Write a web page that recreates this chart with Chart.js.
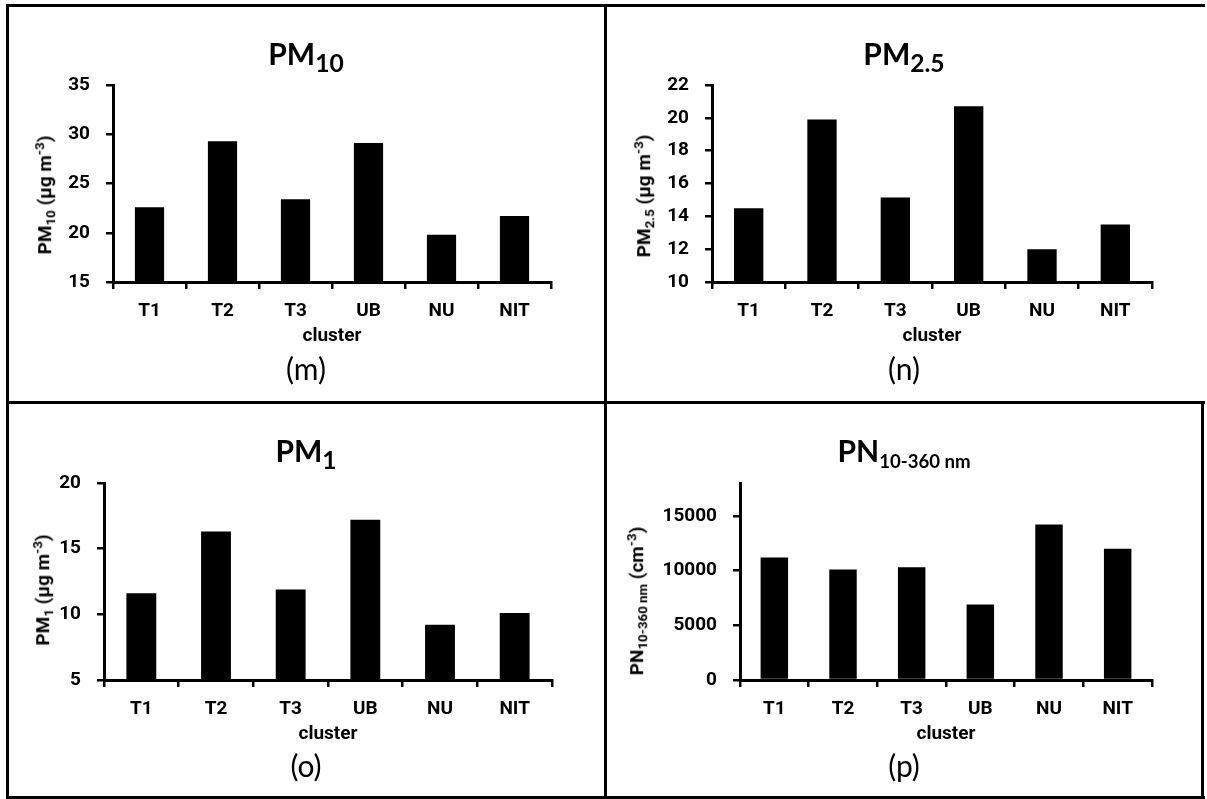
<!DOCTYPE html>
<html>
<head>
<meta charset="utf-8">
<script src="https://cdn.jsdelivr.net/npm/chart.js@4.4.0/dist/chart.umd.min.js"></script>
<style>
  html, body { margin: 0; padding: 0; background: #fff; }
  body { width: 1207px; height: 799px; position: relative; overflow: hidden; }
  .line { position: absolute; background: #000; }
  .cell { position: absolute; }
  .cell canvas { position: absolute; left: 0; top: 0; }
  .title, .tag {
    position: absolute; left: 0; width: 100%; text-align: center;
    font-family: Lato, 'Open Sans', sans-serif; font-size: 30px; line-height: 30px;
    white-space: nowrap; color: #000;
  }
  .title { font-weight: bold; }
  .tag { font-weight: normal; }
  .ylab {
    position: absolute; transform: translate(-50%, -50%) rotate(-90deg);
    font-family: Roboto, sans-serif; font-weight: bold; font-size: 19px; line-height: 19px;
    white-space: nowrap; color: #000;
  }
  .sub { font-size: 70%; vertical-align: -0.25em; }
  .sup { font-size: 70%; vertical-align: 0.55em; }
  .title .sub { font-size: 82%; vertical-align: -0.28em; }
  .title .sub.small { font-size: 62%; vertical-align: -0.3em; }
</style>
</head>
<body>
<div class="line" style="left:6px;top:4px;width:1199px;height:3px"></div>
<div class="line" style="left:6px;top:4px;width:3px;height:795px"></div>
<div class="line" style="left:6px;top:401px;width:1199px;height:3px"></div>
<div class="line" style="left:604px;top:4px;width:3px;height:795px"></div>
<div class="line" style="left:6px;top:796px;width:1199px;height:3px"></div>
<div class="line" style="left:1201px;top:401px;width:3px;height:398px"></div>

<script>
// Categories and values
const clusters = ['T1', 'T2', 'T3', 'UB', 'NU', 'NIT'];
const pm10Values = [22.6, 29.3, 23.4, 29.1, 19.8, 21.7];
const pm25Values = [14.5, 19.9, 15.15, 20.7, 12.0, 13.5];
const pm1Values = [11.6, 16.3, 11.9, 17.2, 9.2, 10.1];
const pnValues = [11200, 10100, 10300, 6900, 14200, 12000];

// Y tick values and axis limits
const pm10Ticks = [15, 20, 25, 30, 35];
const pm25Ticks = [10, 12, 14, 16, 18, 20, 22];
const pm1Ticks = [5, 10, 15, 20];
const pnTicks = [0, 5000, 10000, 15000];
const pm10Range = [15, 35];
const pm25Range = [10, 22];
const pm1Range = [5, 20];
const pnRange = [0, 18000];

const tickFont = { family: 'Roboto', weight: 'bold', size: 19 };

const panels = [
    { tag: '(m)', values: pm10Values, ticks: pm10Ticks, range: pm10Range,
      title: 'PM<span class="sub">10</span>',
      ylabel: 'PM<span class="sub">10</span> (µg m<span class="sup">-3</span>)',
      cell: [7, 5, 598, 397], plot: [106, 544, 80, 277], ylabPos: [38, 190] },
    { tag: '(n)', values: pm25Values, ticks: pm25Ticks, range: pm25Range,
      title: 'PM<span class="sub">2.5</span>',
      ylabel: 'PM<span class="sub">2.5</span> (µg m<span class="sup">-3</span>)',
      cell: [605, 5, 598, 397], plot: [107, 547, 80, 277], ylabPos: [39, 191] },
    { tag: '(o)', values: pm1Values, ticks: pm1Ticks, range: pm1Range,
      title: 'PM<span class="sub">1</span>',
      ylabel: 'PM<span class="sub">1</span> (µg m<span class="sup">-3</span>)',
      cell: [7, 402, 598, 395], plot: [97, 545, 81, 278], ylabPos: [36, 188] },
    { tag: '(p)', values: pnValues, ticks: pnTicks, range: pnRange,
      title: 'PN<span class="sub small">10-360 nm</span>',
      ylabel: 'PN<span class="sub">10-360 nm</span> (cm<span class="sup">-3</span>)',
      cell: [605, 402, 598, 395], plot: [135, 547, 81, 278], ylabPos: [32, 199] }
];

function makePanel(p) {
    const [cx, cy, w, h] = p.cell;
    const [left, right, top, bottom] = p.plot;
    const xAxisHeight = 70;

    const cell = document.createElement('div');
    cell.className = 'cell';
    cell.style.cssText = `left:${cx}px;top:${cy}px;width:${w}px;height:${h}px`;
    document.body.appendChild(cell);

    const canvas = document.createElement('canvas');
    canvas.width = w;
    canvas.height = h;
    cell.appendChild(canvas);

    const title = document.createElement('div');
    title.className = 'title';
    title.style.top = '33px';
    title.innerHTML = p.title;
    cell.appendChild(title);

    const tag = document.createElement('div');
    tag.className = 'tag';
    tag.style.top = '348px';
    tag.textContent = p.tag;
    cell.appendChild(tag);

    const ylab = document.createElement('div');
    ylab.className = 'ylab';
    ylab.style.left = p.ylabPos[0] + 'px';
    ylab.style.top = p.ylabPos[1] + 'px';
    ylab.innerHTML = p.ylabel;
    cell.appendChild(ylab);

    new Chart(canvas, {
        type: 'bar',
        data: {
            labels: clusters,
            datasets: [{
                data: p.values,
                backgroundColor: '#000',
                borderWidth: 0,
                barPercentage: 0.4,
                categoryPercentage: 1
            }]
        },
        options: {
            responsive: false,
            animation: false,
            layout: {
                padding: { top: top, right: w - right, bottom: h - bottom - xAxisHeight, left: 0 }
            },
            plugins: {
                legend: { display: false },
                tooltip: { enabled: false }
            },
            scales: {
                x: {
                    grid: { display: true, drawOnChartArea: false, drawTicks: true, tickLength: 7, color: '#000', lineWidth: 2.5, offset: true },
                    border: { display: true, color: '#000', width: 3 },
                    ticks: { color: '#000', font: tickFont, padding: 11, maxRotation: 0, autoSkip: false },
                    title: { display: true, text: 'cluster', color: '#000', font: tickFont, padding: { top: 0, bottom: 4 } },
                    afterFit: s => { s.height = xAxisHeight; }
                },
                y: {
                    min: p.range[0],
                    max: p.range[1],
                    grid: { display: true, drawOnChartArea: false, drawTicks: true, tickLength: 7, color: '#000', lineWidth: 2.5 },
                    border: { display: true, color: '#000', width: 3 },
                    ticks: { color: '#000', font: tickFont, padding: 16, autoSkip: false, callback: v => String(v) },
                    afterBuildTicks: s => {
                        s.ticks = p.ticks.map(v => ({ value: v }));
                    },
                    afterFit: s => { s.width = left; }
                }
            }
        }
    });
}

panels.forEach(makePanel);
</script>
</body>
</html>
